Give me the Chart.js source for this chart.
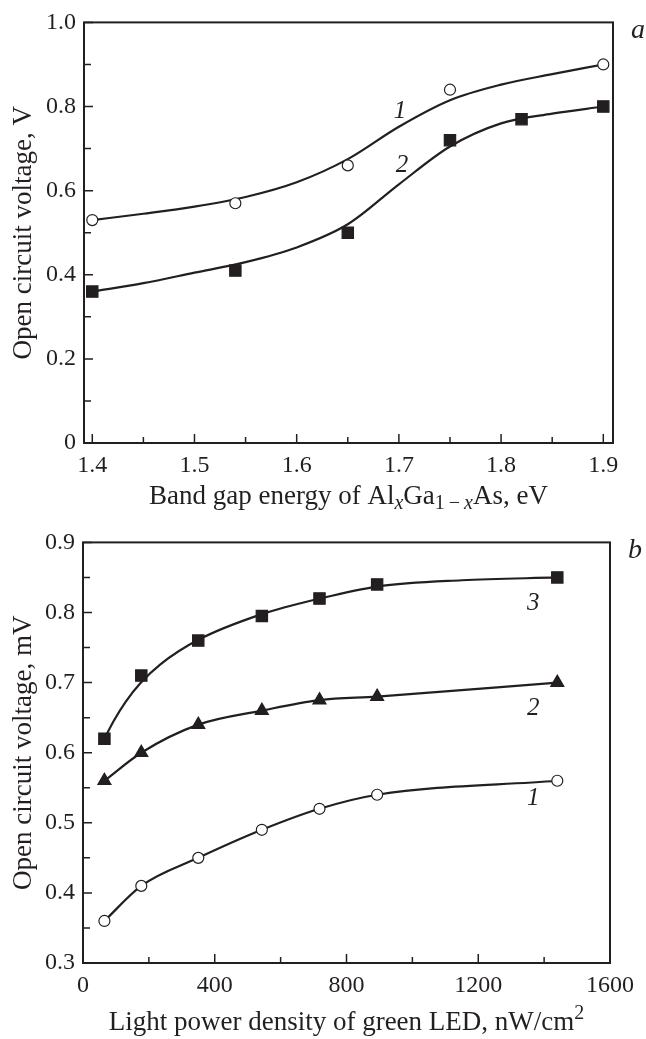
<!DOCTYPE html>
<html>
<head>
<meta charset="utf-8">
<title>Open circuit voltage</title>
<script src="https://cdn.jsdelivr.net/npm/chart.js@4.4.0/dist/chart.umd.min.js"></script>
<style>
  body { margin: 0; background: #fff; }
  canvas { position: absolute; left: 0; }
</style>
</head>
<body>
<canvas id="chartA" width="646" height="520" style="top:0"></canvas>
<canvas id="chartB" width="646" height="519" style="top:520px"></canvas>
<script>
// ---- panel a: Voc vs band gap of AlGaAs ----
const gapEnergy1 = [1.40, 1.54, 1.65, 1.75, 1.90];
const voc1 = [0.53, 0.57, 0.66, 0.84, 0.90];
const gapEnergy2 = [1.40, 1.54, 1.65, 1.75, 1.82, 1.90];
const voc2 = [0.36, 0.41, 0.50, 0.72, 0.77, 0.80];
// smoothed curves
const fitEnergy = [1.40, 1.45, 1.50, 1.55, 1.60, 1.65, 1.70, 1.75, 1.80, 1.85, 1.90];
const fitVoc1 = [0.53, 0.545, 0.562, 0.585, 0.62, 0.675, 0.752, 0.815, 0.852, 0.877, 0.90];
const fitVoc2 = [0.36, 0.38, 0.405, 0.43, 0.465, 0.52, 0.615, 0.705, 0.76, 0.783, 0.80];
const xTicksA = [1.4, 1.5, 1.6, 1.7, 1.8, 1.9];
const xMinorA = [1.45, 1.55, 1.65, 1.75, 1.85];
const yTicksA = [0, 0.2, 0.4, 0.6, 0.8, 1.0];
const yMinorA = [0.1, 0.3, 0.5, 0.7, 0.9];

// ---- panel b: Voc vs green LED power ----
const lightPower = [65, 177, 350, 543, 718, 893, 1440];
const vocLed1 = [0.36, 0.41, 0.45, 0.49, 0.52, 0.54, 0.56];
const vocLed2 = [0.56, 0.60, 0.64, 0.66, 0.675, 0.68, 0.70];
const vocLed3 = [0.62, 0.71, 0.76, 0.795, 0.82, 0.84, 0.85];
const fitPower3 = [65, 94, 130, 174, 235, 350, 539, 720, 893, 1150, 1440];
const fitLed3 = [0.62, 0.646, 0.673, 0.699, 0.726, 0.761, 0.797, 0.820, 0.837, 0.846, 0.85];
const xTicksB = [0, 400, 800, 1200, 1600];
const xMinorB = [200, 600, 1000, 1400];
const yTicksB = [0.3, 0.4, 0.5, 0.6, 0.7, 0.8, 0.9];
const yMinorB = [0.35, 0.45, 0.55, 0.65, 0.75, 0.85];

const ink = '#231f20';
const serif = '"Liberation Serif", "Times New Roman", serif';

function pts(xs, ys) {
  return xs.map((x, i) => ({ x: x, y: ys[i] }));
}

function fontOf(p, size) {
  return (p.italic ? 'italic ' : '') + (p.size || size) + 'px ' + serif;
}

// draws text made of pieces (subscripts, italics) centred on cx
function drawRich(ctx, parts, cx, cy, angle, size) {
  ctx.save();
  ctx.translate(cx, cy);
  ctx.rotate(angle);
  ctx.fillStyle = ink;
  ctx.textAlign = 'left';
  ctx.textBaseline = 'alphabetic';
  let total = 0;
  parts.forEach(p => { ctx.font = fontOf(p, size); total += ctx.measureText(p.text).width; });
  let x = -total / 2;
  parts.forEach(p => {
    ctx.font = fontOf(p, size);
    ctx.fillText(p.text, x, p.dy || 0);
    x += ctx.measureText(p.text).width;
  });
  ctx.restore();
}

// frame, inward ticks, axis titles and curve numbers
const decorPlugin = {
  id: 'decor',
  afterDraw(chart, args, o) {
    const ctx = chart.ctx;
    const a = chart.chartArea;
    const sx = chart.scales.x, sy = chart.scales.y;
    ctx.save();
    ctx.strokeStyle = ink;
    ctx.lineWidth = 2;
    ctx.strokeRect(a.left, a.top, a.right - a.left, a.bottom - a.top);
    ctx.lineWidth = 1.5;
    ctx.beginPath();
    o.xMajor.forEach(v => { const p = sx.getPixelForValue(v); ctx.moveTo(p, a.bottom); ctx.lineTo(p, a.bottom - 9); });
    o.xMinor.forEach(v => { const p = sx.getPixelForValue(v); ctx.moveTo(p, a.bottom); ctx.lineTo(p, a.bottom - 6); });
    o.yMajor.forEach(v => { const p = sy.getPixelForValue(v); ctx.moveTo(a.left, p); ctx.lineTo(a.left + 9, p); });
    o.yMinor.forEach(v => { const p = sy.getPixelForValue(v); ctx.moveTo(a.left, p); ctx.lineTo(a.left + 7, p); });
    ctx.stroke();
    ctx.restore();

    drawRich(ctx, o.xTitle, (a.left + a.right) / 2, o.xTitleY, 0, 27);
    drawRich(ctx, o.yTitle, o.yTitleX, (a.top + a.bottom) / 2, -Math.PI / 2, 27);

    ctx.save();
    ctx.fillStyle = ink;
    ctx.textAlign = 'center';
    ctx.textBaseline = 'middle';
    ctx.font = 'italic 25px ' + serif;
    o.curveLabels.forEach(l => {
      ctx.fillText(l.text, sx.getPixelForValue(l.x), sy.getPixelForValue(l.y));
    });
    ctx.font = 'italic 28px ' + serif;
    ctx.fillText(o.panel, a.right + 25, a.top + 8);
    ctx.restore();
  }
};

function scaleCfg(min, max, ticks, fmt, fit) {
  return {
    type: 'linear',
    min: min,
    max: max,
    grid: { display: false, drawTicks: false },
    border: { display: false },
    afterBuildTicks: s => { s.ticks = ticks.map(v => ({ value: v })); },
    afterFit: fit,
    ticks: {
      autoSkip: false,
      maxRotation: 0,
      color: ink,
      font: { family: serif, size: 24 },
      padding: 8,
      callback: fmt
    }
  };
}

function markers(data, style, radius, fill) {
  return {
    data: data,
    showLine: false,
    pointStyle: style,
    pointRadius: radius,
    pointBackgroundColor: fill,
    pointBorderColor: ink,
    pointBorderWidth: 1.2
  };
}

function curve(data) {
  return {
    data: data,
    showLine: true,
    pointRadius: 0,
    borderColor: ink,
    borderWidth: 2.2,
    cubicInterpolationMode: 'monotone',
    fill: false
  };
}

Chart.register(decorPlugin);

new Chart(document.getElementById('chartA'), {
  type: 'scatter',
  data: {
    datasets: [
      markers(pts(gapEnergy1, voc1), 'circle', 5.5, '#fff'),
      markers(pts(gapEnergy2, voc2), 'rect', 8, ink),
      curve(pts(fitEnergy, fitVoc1)),
      curve(pts(fitEnergy, fitVoc2))
    ]
  },
  options: {
    responsive: false,
    animation: false,
    layout: { padding: { top: 18, right: 33, left: 0, bottom: 0 } },
    scales: {
      x: scaleCfg(1.3919, 1.9095, xTicksA, v => v.toFixed(1), s => { s.height = 77; }),
      y: scaleCfg(0, 1.0, yTicksA, v => (v === 0 ? '0' : v.toFixed(1)), s => { s.width = 84; })
    },
    plugins: {
      legend: { display: false },
      tooltip: { enabled: false },
      decor: {
        xMajor: xTicksA, xMinor: xMinorA, yMajor: yTicksA, yMinor: yMinorA,
        xTitleY: 504,
        yTitleX: 31,
        xTitle: [
          { text: 'Band gap energy of Al' },
          { text: 'x', italic: true, size: 20, dy: 5 },
          { text: 'Ga' },
          { text: '1\u2009\u2212\u2009', size: 20, dy: 5 },
          { text: 'x', italic: true, size: 20, dy: 5 },
          { text: 'As, eV' }
        ],
        yTitle: [{ text: 'Open circuit voltage, V' }],
        curveLabels: [
          { text: '1', x: 1.701, y: 0.788 },
          { text: '2', x: 1.703, y: 0.661 }
        ],
        panel: 'a'
      }
    }
  }
});

new Chart(document.getElementById('chartB'), {
  type: 'scatter',
  data: {
    datasets: [
      markers(pts(lightPower, vocLed1), 'circle', 5.5, '#fff'),
      markers(pts(lightPower, vocLed2), 'triangle', 7.5, ink),
      markers(pts(lightPower, vocLed3), 'rect', 8, ink),
      curve(pts(lightPower, vocLed1)),
      curve(pts(lightPower, vocLed2)),
      curve(pts(fitPower3, fitLed3))
    ]
  },
  options: {
    responsive: false,
    animation: false,
    layout: { padding: { top: 21, right: 36, left: 0, bottom: 0 } },
    scales: {
      x: scaleCfg(0, 1600, xTicksB, v => String(v), s => { s.height = 76; }),
      y: scaleCfg(0.3, 0.9, yTicksB, v => v.toFixed(1), s => { s.width = 83; })
    },
    plugins: {
      legend: { display: false },
      tooltip: { enabled: false },
      decor: {
        xMajor: xTicksB, xMinor: xMinorB, yMajor: yTicksB, yMinor: yMinorB,
        xTitleY: 510,
        yTitleX: 31,
        xTitle: [
          { text: 'Light power density of green LED, nW/cm' },
          { text: '2', size: 20, dy: -11 }
        ],
        yTitle: [{ text: 'Open circuit voltage, mV' }],
        curveLabels: [
          { text: '3', x: 1367, y: 0.813 },
          { text: '2', x: 1367, y: 0.663 },
          { text: '1', x: 1367, y: 0.535 }
        ],
        panel: 'b'
      }
    }
  }
});
</script>
</body>
</html>
